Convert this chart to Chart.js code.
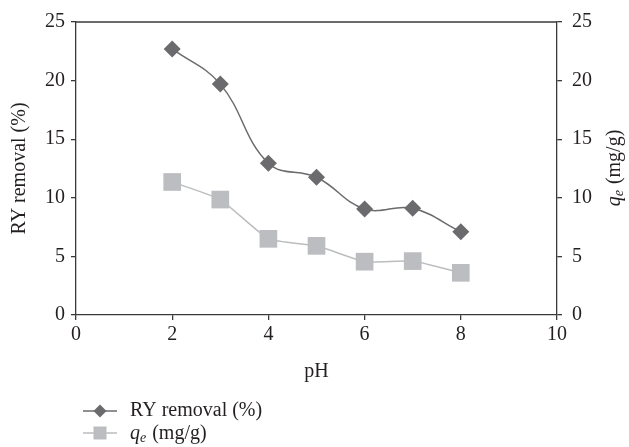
<!DOCTYPE html>
<html lang="en">
<head>
    <meta charset="UTF-8">
    <title>RY removal vs pH</title>
    <script src="https://cdn.jsdelivr.net/npm/chart.js"></script>
    <style>
        body {
            margin: 0;
            background: #ffffff;
        }
        .chart-box {
            position: relative;
            width: 629px;
            height: 447px;
        }
    </style>
</head>
<body>
    <div class="chart-box">
        <canvas id="phChart"></canvas>
    </div>

    <script>
        // values
        const phValues = [2, 3, 4, 5, 6, 7, 8];
        const ryRemoval = [22.7, 19.7, 12.95, 11.75, 9.05, 9.1, 7.1];
        const qeValues = [11.35, 9.85, 6.5, 5.9, 4.55, 4.6, 3.6];

        const xRange = [0, 10];
        const xStep = 2;
        const yRange = [0, 25];
        const yStep = 5;

        const fontFamily = "'Liberation Serif', 'DejaVu Serif', serif";
        const textColor = '#231f20';
        const axisColor = '#3a3a3a';
        const darkGrey = '#6b6b6d';
        const lightGrey = '#bcbdc0';

        function drawQe(ctx, x, y, align) {
            // italic q with subscript e, then " (mg/g)"
            const big = '20px ' + fontFamily;
            const bigItalic = 'italic 20px ' + fontFamily;
            const smallItalic = 'italic 14px ' + fontFamily;
            ctx.font = bigItalic;
            const wq = ctx.measureText('q').width;
            ctx.font = smallItalic;
            const we = ctx.measureText('e').width;
            ctx.font = big;
            const wr = ctx.measureText(' (mg/g)').width;
            const total = wq + we + wr;
            let sx = align === 'center' ? x - total / 2 : x;
            ctx.textAlign = 'left';
            ctx.textBaseline = 'alphabetic';
            ctx.fillStyle = textColor;
            ctx.font = bigItalic;
            ctx.fillText('q', sx, y + 6);
            ctx.font = smallItalic;
            ctx.fillText('e', sx + wq, y + 9);
            ctx.font = big;
            ctx.fillText(' (mg/g)', sx + wq + we + 1, y + 6);
        }

        const extrasPlugin = {
            id: 'extras',
            afterDraw(chart) {
                const ctx = chart.ctx;
                const a = chart.chartArea;
                ctx.save();

                // top border of the frame
                ctx.strokeStyle = axisColor;
                ctx.lineWidth = 1.3;
                ctx.beginPath();
                ctx.moveTo(a.left, a.top);
                ctx.lineTo(a.right, a.top);
                ctx.stroke();

                // right axis title
                ctx.save();
                ctx.translate(614, (a.top + a.bottom) / 2);
                ctx.rotate(-Math.PI / 2);
                drawQe(ctx, 0, 0, 'center');
                ctx.restore();

                // legend
                const lx1 = 83, lx2 = 117, mx = 100, tx = 130;
                const row1 = 411, row2 = 433;

                ctx.lineWidth = 1.5;
                ctx.strokeStyle = darkGrey;
                ctx.beginPath();
                ctx.moveTo(lx1, row1);
                ctx.lineTo(lx2, row1);
                ctx.stroke();
                ctx.fillStyle = darkGrey;
                ctx.beginPath();
                ctx.moveTo(mx, row1 - 6.5);
                ctx.lineTo(mx + 6.5, row1);
                ctx.lineTo(mx, row1 + 6.5);
                ctx.lineTo(mx - 6.5, row1);
                ctx.closePath();
                ctx.fill();
                ctx.fillStyle = textColor;
                ctx.font = '20px ' + fontFamily;
                ctx.textAlign = 'left';
                ctx.textBaseline = 'middle';
                ctx.fillText('RY removal (%)', tx, row1);

                ctx.strokeStyle = lightGrey;
                ctx.beginPath();
                ctx.moveTo(lx1, row2);
                ctx.lineTo(lx2, row2);
                ctx.stroke();
                ctx.fillStyle = lightGrey;
                ctx.fillRect(mx - 6.5, row2 - 6.5, 13, 13);
                drawQe(ctx, tx, row2, 'left');

                ctx.restore();
            }
        };

        const tickFont = { family: fontFamily, size: 20 };

        new Chart(document.getElementById('phChart'), {
            type: 'line',
            data: {
                datasets: [{
                    label: 'RY removal (%)',
                    data: phValues.map((x, i) => ({ x: x, y: ryRemoval[i] })),
                    yAxisID: 'y',
                    borderColor: darkGrey,
                    backgroundColor: darkGrey,
                    borderWidth: 1.5,
                    pointStyle: 'rectRot',
                    pointRadius: 8.5,
                    pointBorderWidth: 0,
                    tension: 0.4
                }, {
                    label: 'qe (mg/g)',
                    data: phValues.map((x, i) => ({ x: x, y: qeValues[i] })),
                    yAxisID: 'y2',
                    borderColor: lightGrey,
                    backgroundColor: lightGrey,
                    borderWidth: 1.5,
                    pointStyle: 'rect',
                    pointRadius: 12.5,
                    pointBorderWidth: 0,
                    tension: 0.15
                }]
            },
            options: {
                responsive: true,
                maintainAspectRatio: false,
                animation: false,
                layout: {
                    padding: { top: 20, bottom: 60, left: 0, right: 0 }
                },
                plugins: {
                    legend: { display: false },
                    tooltip: { enabled: false }
                },
                scales: {
                    x: {
                        type: 'linear',
                        min: xRange[0],
                        max: xRange[1],
                        afterFit: (s) => { s.height = 72; },
                        border: { display: true, color: axisColor, width: 1.3 },
                        grid: { drawOnChartArea: false, drawTicks: true, tickLength: 5, color: axisColor, lineWidth: 1.3 },
                        ticks: { stepSize: xStep, color: textColor, font: tickFont, padding: 3, maxRotation: 0 },
                        title: { display: true, text: 'pH', color: textColor, font: tickFont, padding: { top: 4, bottom: 3 } }
                    },
                    y: {
                        position: 'left',
                        min: yRange[0],
                        max: yRange[1],
                        afterFit: (s) => { s.width = 76; },
                        border: { display: true, color: axisColor, width: 1.3 },
                        grid: { drawOnChartArea: false, drawTicks: true, tickLength: 5, color: axisColor, lineWidth: 1.3 },
                        ticks: { stepSize: yStep, color: textColor, font: tickFont, padding: 6 },
                        title: { display: true, text: 'RY removal (%)', color: textColor, font: tickFont, padding: { top: 8, bottom: 0 } }
                    },
                    y2: {
                        position: 'right',
                        min: yRange[0],
                        max: yRange[1],
                        afterFit: (s) => { s.width = 72; },
                        border: { display: true, color: axisColor, width: 1.3 },
                        grid: { drawOnChartArea: false, drawTicks: true, tickLength: 5, color: axisColor, lineWidth: 1.3 },
                        ticks: { stepSize: yStep, color: textColor, font: tickFont, padding: 10 }
                    }
                }
            },
            plugins: [extrasPlugin]
        });
    </script>
</body>
</html>
